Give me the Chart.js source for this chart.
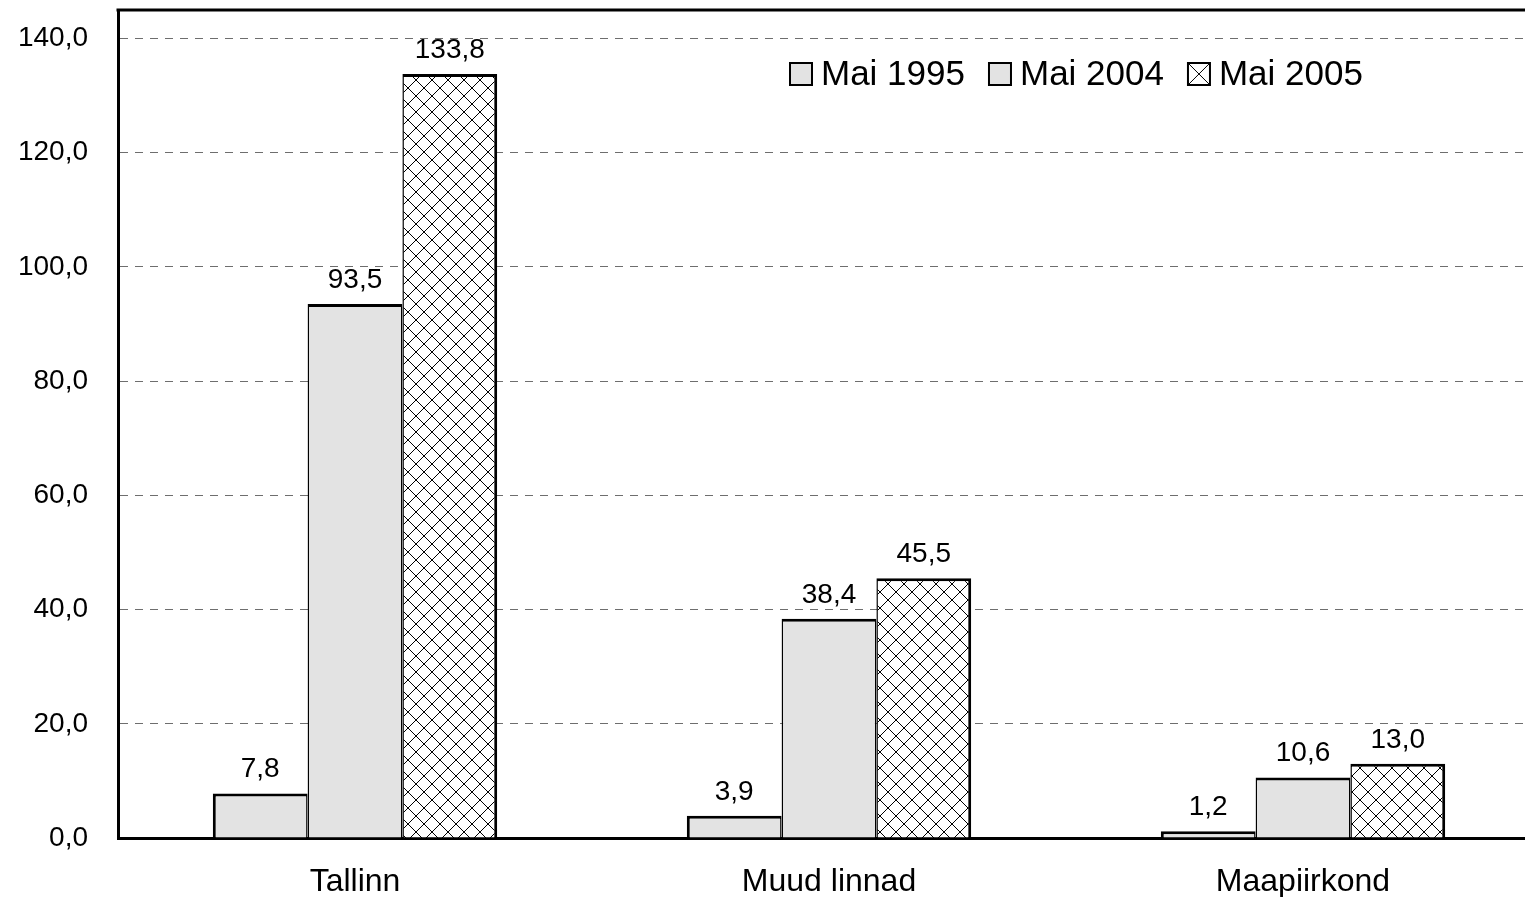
<!DOCTYPE html>
<html lang="et">
<head>
<meta charset="utf-8">
<title>Mai 1995 / Mai 2004 / Mai 2005</title>
<script src="https://cdn.jsdelivr.net/npm/chart.js@4.4.1/dist/chart.umd.min.js"></script>
<style>
  html, body { margin: 0; padding: 0; background: #fff; overflow: hidden; }
  #wrap { width: 1525px; height: 897px; overflow: hidden; }
  canvas { display: block; }
</style>
</head>
<body>
<div id="wrap"><canvas id="chart" width="1540" height="897"></canvas></div>
<script>
/* ── Datos ─────────────────────────────────────────── */
const categories = ["Tallinn", "Muud linnad", "Maapiirkond"];
const seriesLabels = ["Mai 1995", "Mai 2004", "Mai 2005"];
const mai1995 = [7.8, 3.9, 1.2];
const mai2004 = [93.5, 38.4, 10.6];
const mai2005 = [133.8, 45.5, 13.0];
const yTicks = [0, 20, 40, 60, 80, 100, 120, 140];

/* ── Estilo ────────────────────────────────────────── */
const FONT = '"Liberation Sans", Arial, sans-serif';
const GREY = "#e3e3e3";
const fmt = (v) => v.toFixed(1).replace(".", ",");

/* cross-hatch pattern for the 2005 series */
function makeHatch(size) {
  const c = document.createElement("canvas");
  c.width = size;
  c.height = size;
  const g = c.getContext("2d");
  g.fillStyle = "#fff";
  g.fillRect(0, 0, size, size);
  g.strokeStyle = "#000";
  g.lineWidth = 1;
  g.beginPath();
  g.moveTo(0, 0); g.lineTo(size, size);
  g.moveTo(size, 0); g.lineTo(0, size);
  g.stroke();
  return c;
}
const ctx = document.getElementById("chart").getContext("2d");
const hatch = ctx.createPattern(makeHatch(16), "repeat");

/* ── Plugin: top frame line ─────────────────────────── */
const topFramePlugin = {
  id: "topFrame",
  afterDraw(chart) {
    const { ctx, chartArea } = chart;
    ctx.save();
    ctx.strokeStyle = "#000";
    ctx.lineWidth = 3;
    ctx.beginPath();
    ctx.moveTo(chartArea.left - 1.5, chartArea.top);
    ctx.lineTo(chartArea.right, chartArea.top);
    ctx.stroke();
    ctx.restore();
  },
};

/* ── Plugin: value labels above bars ─────────────────── */
const valueLabelsPlugin = {
  id: "valueLabels",
  afterDatasetsDraw(chart) {
    const { ctx } = chart;
    ctx.save();
    ctx.font = "28px " + FONT;
    ctx.fillStyle = "#000";
    ctx.textAlign = "center";
    ctx.textBaseline = "alphabetic";
    chart.data.datasets.forEach((ds, i) => {
      chart.getDatasetMeta(i).data.forEach((bar, j) => {
        ctx.fillText(fmt(ds.data[j]), bar.x, bar.y - 16);
      });
    });
    ctx.restore();
  },
};

/* ── Plugin: legend inside the plot (Excel style) ──── */
const innerLegendPlugin = {
  id: "innerLegend",
  afterDraw(chart, _args, opts) {
    const { ctx } = chart;
    const box = 22;
    let x = opts.x;
    const y = opts.y;
    ctx.save();
    ctx.font = "35px " + FONT;
    ctx.textBaseline = "middle";
    ctx.textAlign = "left";
    chart.data.datasets.forEach((ds) => {
      const top = y - box / 2;
      ctx.fillStyle = ds.legendHatch ? "#fff" : ds.backgroundColor;
      ctx.fillRect(x, top, box, box);
      if (ds.legendHatch) {
        ctx.strokeStyle = "#000";
        ctx.lineWidth = 1;
        ctx.beginPath();
        ctx.moveTo(x, top); ctx.lineTo(x + box, top + box);
        ctx.moveTo(x + box, top); ctx.lineTo(x, top + box);
        ctx.stroke();
      }
      ctx.strokeStyle = "#000";
      ctx.lineWidth = 2;
      ctx.strokeRect(x, top, box, box);
      ctx.fillStyle = "#000";
      ctx.fillText(ds.label, x + box + 9, y + 1);
      x += box + 9 + ctx.measureText(ds.label).width + 24;
    });
    ctx.restore();
  },
};

/* neighbouring bars share one edge: half width on the inner sides */
const barBase = {
  borderColor: "#000",
  categoryPercentage: 0.6,
  barPercentage: 1.0,
  borderSkipped: "bottom",
};

new Chart(ctx, {
  type: "bar",
  data: {
    labels: categories,
    datasets: [
      { ...barBase, label: seriesLabels[0], data: mai1995, backgroundColor: GREY,
        borderWidth: { top: 3, left: 3, right: 1.5, bottom: 0 } },
      { ...barBase, label: seriesLabels[1], data: mai2004, backgroundColor: GREY,
        borderWidth: { top: 3, left: 1.5, right: 1.5, bottom: 0 } },
      { ...barBase, label: seriesLabels[2], data: mai2005, backgroundColor: hatch, legendHatch: true,
        borderWidth: { top: 3, left: 1.5, right: 3, bottom: 0 } },
    ],
  },
  options: {
    responsive: false,
    animation: false,
    layout: { padding: { top: 10, left: 0, right: 0, bottom: 0 } },
    plugins: {
      legend: { display: false },
      tooltip: { enabled: false },
      innerLegend: { x: 790, y: 74 },
    },
    scales: {
      x: {
        grid: { display: false },
        border: { display: true, color: "#000", width: 3 },
        ticks: { color: "#000", font: { family: FONT, size: 32 }, padding: 17, maxRotation: 0 },
        afterFit(scale) {
          scale.height = 59;
          scale.paddingLeft = 0;
          scale.paddingRight = 0;
        },
      },
      y: {
        min: 0,
        max: 145,
        afterBuildTicks(scale) {
          scale.ticks = yTicks.map((v) => ({ value: v }));
        },
        grid: {
          drawTicks: false,
          color: (c) => (c.tick && c.tick.value === 0 ? "rgba(0,0,0,0)" : "#6e6e6e"),
          lineWidth: 1,
        },
        border: { display: true, color: "#000", width: 3, dash: [8, 7] },
        ticks: {
          color: "#000",
          font: { family: FONT, size: 28 },
          padding: 30,
          callback: (v) => fmt(v),
        },
        afterFit(scale) {
          scale.width = 118;
          scale.paddingTop = 0;
          scale.paddingBottom = 0;
        },
      },
    },
  },
  plugins: [topFramePlugin, valueLabelsPlugin, innerLegendPlugin],
});
</script>
</body>
</html>
